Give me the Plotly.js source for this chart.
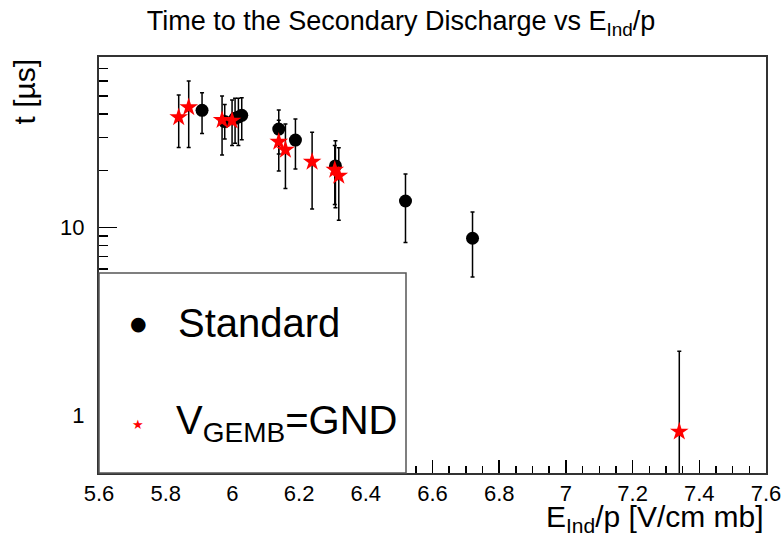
<!DOCTYPE html>
<html>
<head>
<meta charset="utf-8">
<script src="https://cdn.plot.ly/plotly-3.0.1.min.js"></script>
<style>
html, body { margin: 0; padding: 0; background: #ffffff; }
#chart { width: 784px; height: 533px; }
</style>
</head>
<body>
<div id="chart"></div>
<script>
// ---- data ----
const stdX = [5.909, 5.977, 6.008, 6.018, 6.028, 6.139, 6.189, 6.309, 6.519, 6.720];
const stdY = [41.9, 36.5, 38.0, 38.6, 39.4, 33.3, 29.1, 21.2, 13.8, 8.74];
const stdErrPlus  = [10.1, 8.5, 10.5, 9.9, 9.5, 8.8, 8.6, 7.7, 5.4, 3.3];
const stdErrMinus = [10.4, 7.0, 10.0, 11.4, 10.2, 8.8, 8.7, 8.5, 5.5, 3.3];

const gndX = [5.839, 5.869, 5.969, 5.999, 6.139, 6.159, 6.239, 6.307, 6.319, 7.340];
const gndY = [38.5, 43.5, 37.2, 36.9, 28.5, 25.8, 22.3, 20.2, 18.8, 0.818];
const gndErrPlus  = [12.0, 16.5, 12.8, 10.6, 8.6, 9.6, 9.7, 7.0, 7.7, 1.37];
const gndErrMinus = [11.9, 16.9, 13.0, 9.7, 8.6, 9.7, 9.8, 7.0, 7.9, 1.37];

const xTickVals = [5.6, 5.8, 6.0, 6.2, 6.4, 6.6, 6.8, 7.0, 7.2, 7.4, 7.6];
const xTickText = ['5.6', '5.8', '6', '6.2', '6.4', '6.6', '6.8', '7', '7.2', '7.4', '7.6'];
const yTickVals = [1, 10];
const yTickText = ['1', '10'];
const yMinorVals = [0.5, 0.6, 0.7, 0.8, 0.9, 2, 3, 4, 5, 6, 7, 8, 9, 20, 30, 40, 50, 60, 70, 80];

const seriesNames = ['Standard', 'V<sub>GEMB</sub>=GND'];

// ---- traces ----
const traces = [
  {
    x: stdX, y: stdY, type: 'scatter', mode: 'markers', name: seriesNames[0],
    marker: { symbol: 'circle', size: 13, color: '#000000' },
    error_y: { type: 'data', symmetric: false, array: stdErrPlus, arrayminus: stdErrMinus,
               color: '#000000', thickness: 1.5, width: 2 },
    showlegend: false, cliponaxis: true
  },
  {
    x: gndX, y: gndY, type: 'scatter', mode: 'markers', name: seriesNames[1],
    marker: { symbol: 'star', size: 14, color: '#ff0000', line: { width: 0 } },
    error_y: { type: 'data', symmetric: false, array: gndErrPlus, arrayminus: gndErrMinus,
               color: '#000000', thickness: 1.5, width: 2 },
    showlegend: false, cliponaxis: true
  }
];

const FONT = 'Liberation Sans, Arial, Helvetica, sans-serif';
const W = 784, H = 533;
const L = 99, R = 18, T = 57, B = 60;
const pw = W - L - R, ph = H - T - B;
function px2x(p) { return (p - L) / pw; }
function px2y(p) { return (H - B - p) / ph; }

const layout = {
  width: W, height: H,
  margin: { l: L, r: R, t: T, b: B, pad: 0 },
  paper_bgcolor: '#ffffff', plot_bgcolor: '#ffffff',
  font: { family: FONT, color: '#000000', size: 22 },
  showlegend: false,
  title: {
    text: 'Time to the Secondary Discharge vs E<sub>Ind</sub>/p',
    font: { family: FONT, size: 27, color: '#000000' },
    xref: 'container', yref: 'container',
    x: 401 / W, xanchor: 'center',
    y: 1 - 21 / H, yanchor: 'middle'
  },
  xaxis: {
    type: 'linear', range: [5.6, 7.6], autorange: false,
    tickmode: 'array', tickvals: xTickVals, ticktext: xTickText,
    ticks: 'inside', ticklen: 13, tickwidth: 1.5, tickcolor: '#000000',
    minor: { dtick: 0.05, tick0: 5.6, ticks: 'inside', ticklen: 7, tickwidth: 1.5, tickcolor: '#000000', showgrid: false },
    showgrid: false, zeroline: false,
    showline: true, linecolor: '#333333', linewidth: 2, mirror: true,
    tickfont: { family: FONT, size: 22, color: '#000000' },
    ticklabelstandoff: 0
  },
  yaxis: {
    type: 'log', range: [Math.log10(0.493), Math.log10(80.5)], autorange: false,
    tickmode: 'array', tickvals: yTickVals, ticktext: yTickText,
    ticks: 'inside', ticklen: 18, tickwidth: 1.5, tickcolor: '#000000',
    minor: { tickmode: 'array', tickvals: yMinorVals, ticks: 'inside', ticklen: 9, tickwidth: 1.5, tickcolor: '#000000', showgrid: false },
    showgrid: false, zeroline: false,
    showline: true, linecolor: '#333333', linewidth: 2, mirror: true,
    tickfont: { family: FONT, size: 22, color: '#000000' },
    ticklabelstandoff: 8
  },
  shapes: [
    {
      type: 'rect', xref: 'paper', yref: 'paper', layer: 'above',
      x0: 0, x1: px2x(406), y0: 0, y1: px2y(273),
      fillcolor: '#ffffff', line: { color: '#555555', width: 1.5 }
    }
  ],
  annotations: [
    { xref: 'paper', yref: 'paper', x: px2x(138), y: px2y(323), xanchor: 'center', yanchor: 'middle',
      text: '●', showarrow: false, font: { family: 'DejaVu Sans', size: 19, color: '#000000' } },
    { xref: 'paper', yref: 'paper', x: px2x(176), y: px2y(323), xanchor: 'left', yanchor: 'middle',
      text: seriesNames[0], showarrow: false, font: { family: FONT, size: 40, color: '#000000' } },
    { xref: 'paper', yref: 'paper', x: px2x(138), y: px2y(424), xanchor: 'center', yanchor: 'middle',
      text: '★', showarrow: false, font: { family: 'DejaVu Sans', size: 13, color: '#ff0000' } },
    { xref: 'paper', yref: 'paper', x: px2x(174), y: px2y(396), xanchor: 'left', yanchor: 'top',
      text: seriesNames[1], showarrow: false, font: { family: FONT, size: 40, color: '#000000' } },
    { xref: 'paper', yref: 'paper', x: 1, y: px2y(498), xanchor: 'right', yanchor: 'top',
      text: 'E<sub>Ind</sub>/p [V/cm mb]', showarrow: false, font: { family: FONT, size: 30, color: '#000000' } },
    { xref: 'paper', yref: 'paper', x: px2x(5), y: 1, xanchor: 'left', yanchor: 'top', textangle: -90,
      text: 't [µs]', showarrow: false, font: { family: FONT, size: 30, color: '#000000' } }
  ]
};

Plotly.newPlot('chart', traces, layout, { staticPlot: true, displayModeBar: false });
</script>
</body>
</html>
